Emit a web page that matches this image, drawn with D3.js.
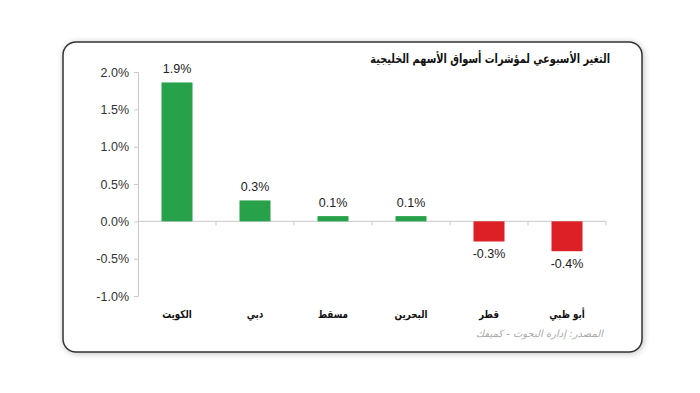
<!DOCTYPE html>
<html><head><meta charset="utf-8">
<script src="https://cdn.jsdelivr.net/npm/d3@7"></script>
<style>body{margin:0;background:#fff}svg{display:block}</style>
</head><body>
<script>
const categories = ["الكويت","دبي","مسقط","البحرين","قطر","أبو ظبي"];
const values = [1.86, 0.28, 0.07, 0.07, -0.27, -0.40];
const labels = ["1.9%","0.3%","0.1%","0.1%","-0.3%","-0.4%"];
const yTicks = [2.0,1.5,1.0,0.5,0.0,-0.5,-1.0];
const title = "التغير الأسبوعي لمؤشرات أسواق الأسهم الخليجية";
const source = "المصدر: إدارة البحوث - كميفك";

const W=700,H=393;
const svg=d3.select("body").append("svg").attr("width",W).attr("height",H);
const defs=svg.append("defs");
const f=defs.append("filter").attr("id","sh").attr("x","-5%").attr("y","-5%").attr("width","110%").attr("height","110%");
f.append("feGaussianBlur").attr("in","SourceAlpha").attr("stdDeviation",3).attr("result","b");
f.append("feOffset").attr("in","b").attr("dx",1).attr("dy",1).attr("result","o");
f.append("feComponentTransfer").attr("in","o").attr("result","o2").append("feFuncA").attr("type","linear").attr("slope",0.25);
const m=f.append("feMerge");m.append("feMergeNode").attr("in","o2");m.append("feMergeNode").attr("in","SourceGraphic");

svg.append("rect").attr("x",63).attr("y",42).attr("width",579).attr("height",310).attr("rx",13)
  .attr("fill","#fff").attr("stroke","#333").attr("stroke-width",1.5).attr("filter","url(#sh)");

const y=d3.scaleLinear().domain([-1,2]).range([296,72]);

// y axis
const ya=svg.append("g").attr("transform","translate(138,0)")
  .call(d3.axisLeft(y).tickValues(yTicks).tickSize(4).tickFormat(d=>d3.format(".1f")(d).replace("\u2212","-")+"%"));
ya.select(".domain").attr("stroke","#c8c8c8");
ya.selectAll(".tick line").attr("stroke","#c8c8c8");
ya.selectAll(".tick text").attr("font-family","Liberation Sans, Arial, sans-serif").attr("font-size",12.5).attr("fill","#333").attr("x",-9);

// zero line with category ticks
const xb=d3.scaleBand().domain(categories).range([138,606]);
svg.append("line").attr("x1",138).attr("x2",606).attr("y1",y(0)).attr("y2",y(0)).attr("stroke","#c8c8c8");
svg.selectAll(".ct").data(categories.slice(1).concat(["end"])).enter().append("line")
  .attr("x1",(d,i)=>138+(i+1)*xb.bandwidth()).attr("x2",(d,i)=>138+(i+1)*xb.bandwidth())
  .attr("y1",y(0)).attr("y2",y(0)+4).attr("stroke","#c8c8c8");

// bars
svg.selectAll(".bar").data(values).enter().append("rect")
  .attr("x",(d,i)=>xb(categories[i])+xb.bandwidth()/2-15.5).attr("width",31)
  .attr("y",d=>y(Math.max(0,d))).attr("height",d=>Math.abs(y(d)-y(0)))
  .attr("fill",d=>d>=0?"#27a24a":"#dd1f26");

// value labels
svg.selectAll(".vl").data(values).enter().append("text")
  .attr("x",(d,i)=>xb(categories[i])+xb.bandwidth()/2)
  .attr("y",d=>d>=0?y(d)-9:y(d)+17)
  .attr("text-anchor","middle").attr("font-family","Liberation Sans, Arial, sans-serif")
  .attr("font-size",12.5).attr("fill","#222").text((d,i)=>labels[i]);

// category labels (horizontally condensed to mimic Arial Arabic)
svg.selectAll(".cl").data(categories).enter().append("text")
  .attr("x",d=>xb(d)+xb.bandwidth()/2).attr("y",318)
  .attr("text-anchor","middle").attr("font-family","DejaVu Sans, sans-serif").attr("font-weight","bold")
  .attr("font-size",11).attr("fill","#111").text(d=>d)
  .each(function(){const L=this.getComputedTextLength();d3.select(this).attr("textLength",L*0.8).attr("lengthAdjust","spacingAndGlyphs");});

// title
const t=svg.append("text").attr("x",610).attr("y",63).attr("text-anchor","end")
  .attr("font-family","DejaVu Sans, sans-serif").attr("font-weight","bold").attr("font-size",12.5).attr("fill","#111")
  .text(title);
t.attr("textLength",t.node().getComputedTextLength()*0.78).attr("lengthAdjust","spacingAndGlyphs");

// source
svg.append("text").attr("x",603).attr("y",337).attr("text-anchor","end")
  .attr("font-family","DejaVu Sans, sans-serif").attr("font-style","italic").attr("font-size",10).attr("fill","#aaa")
  .text(source);
</script>
</body></html>
